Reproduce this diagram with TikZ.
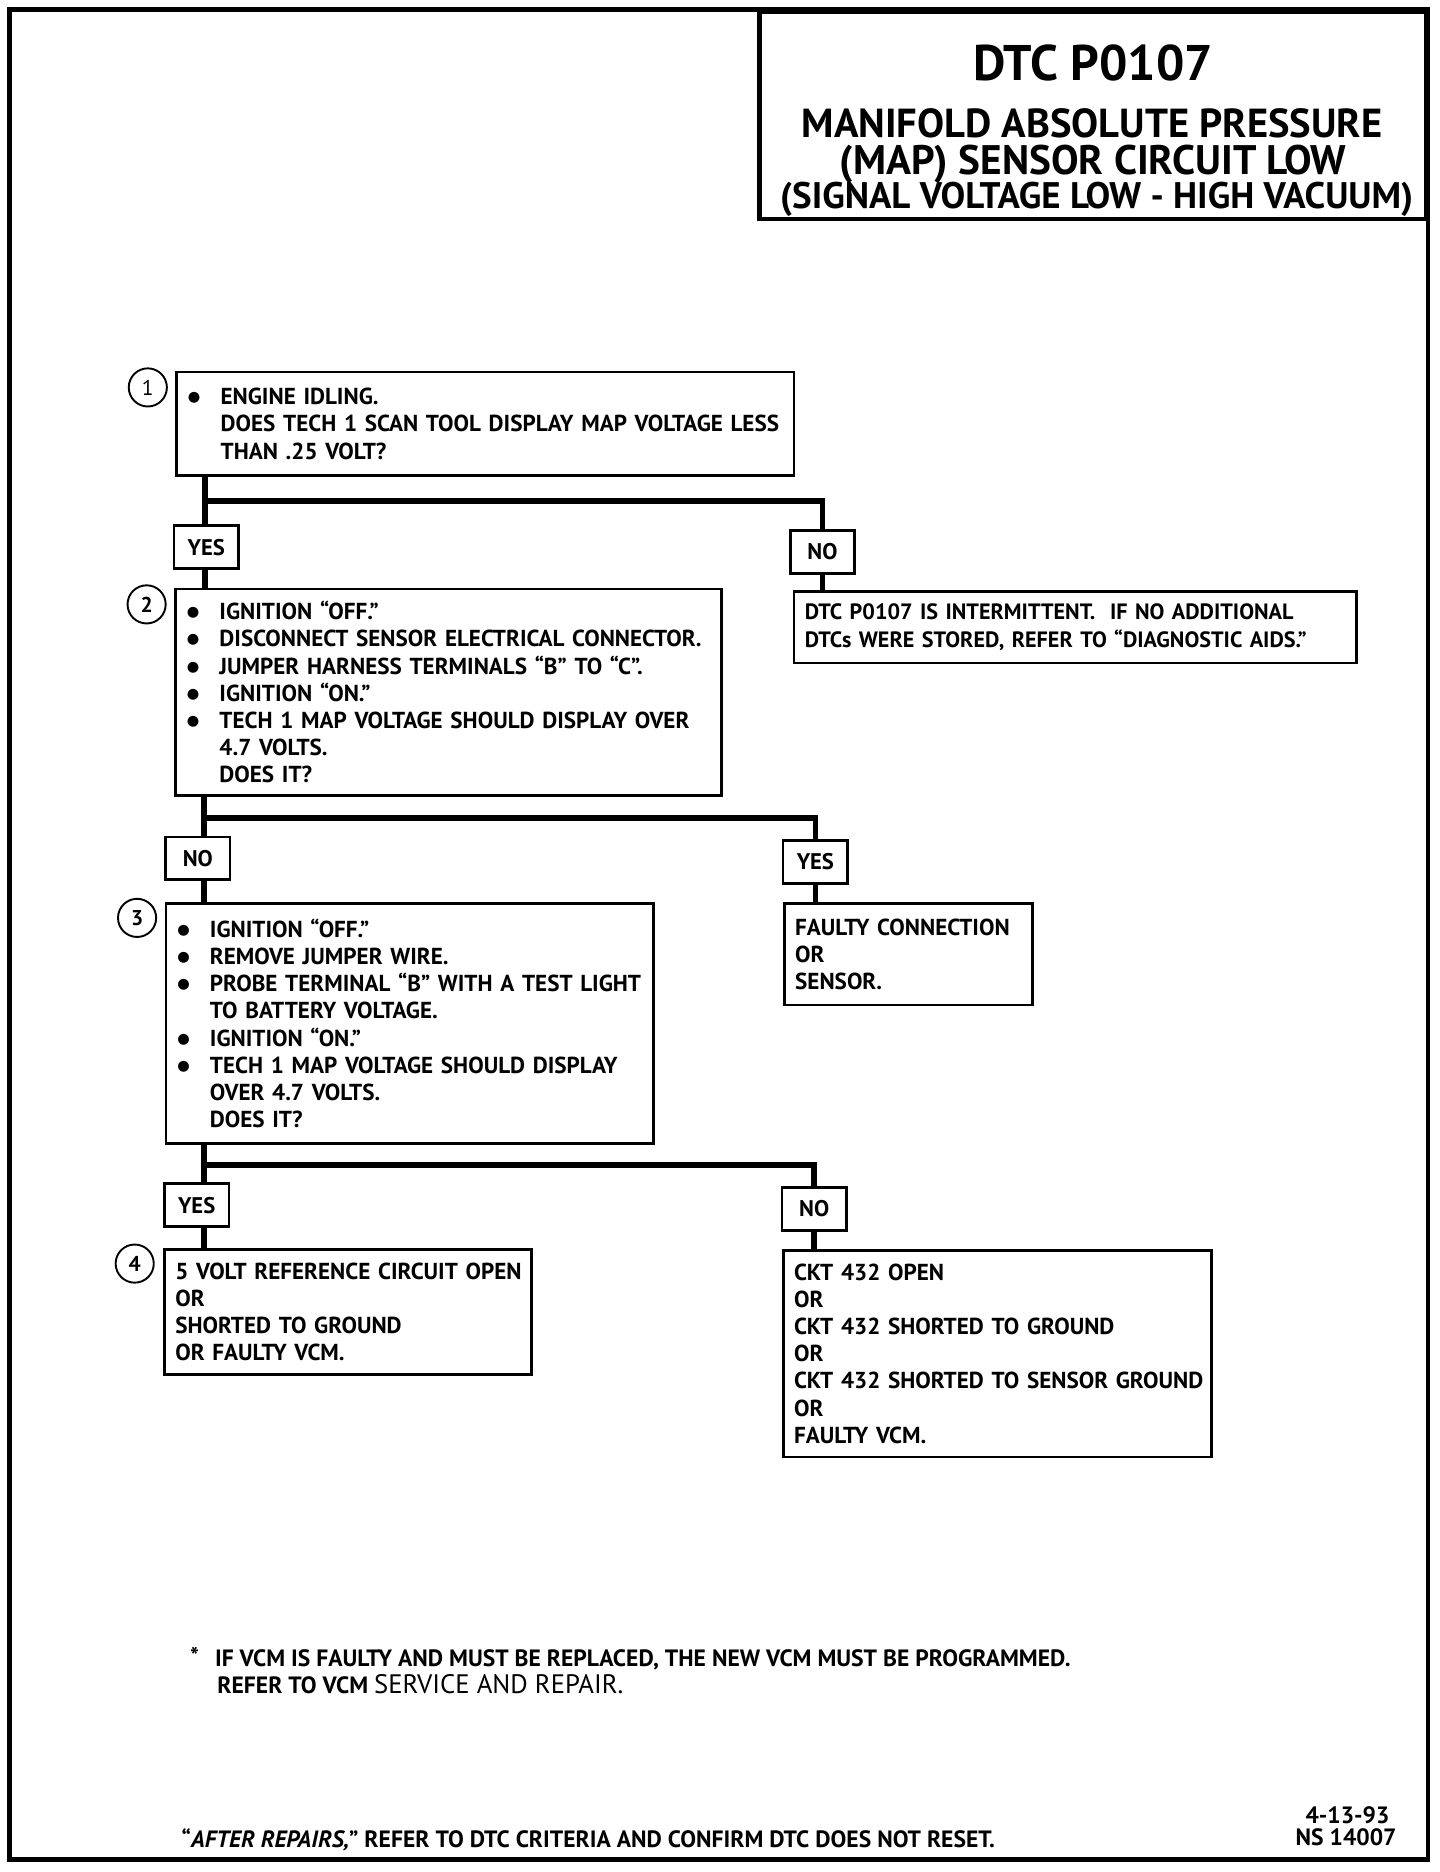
\documentclass[tikz,border=0pt]{standalone}
\usepackage{fontspec}
\setmainfont{PT Sans}
\newfontfamily\dvfont{DejaVu Sans}
\newcommand\myboxfont{\fontsize{9.7}{11.4}\selectfont\bfseries}
\newcommand\mylblfont{\fontsize{9.5}{11}\selectfont\bfseries}
\newcommand\mynumfont{\fontsize{9}{10}\selectfont\bfseries}
\newcommand\myftnfont{\fontsize{9.9}{11}\selectfont\bfseries}
\newcommand\mydot{\raisebox{1.2pt}{\dvfont\fontsize{6}{6}\selectfont ●}}
\newcommand\Bl[1]{\mbox{\makebox[11.5pt][l]{\hspace*{-2.2pt}\mydot}#1}}
\newcommand\Nl[1]{\mbox{\hspace*{11.5pt}#1}}
\newcommand\Pl[1]{\mbox{#1}}
\begin{document}
\begin{tikzpicture}[x=0.5pt,y=-0.5pt,
  box/.style={draw, line width=1.1pt, anchor=north west, align=left, inner ysep=0pt, font=\myboxfont},
  bbox/.style={box, inner xsep=7pt},
  pbox/.style={box, inner xsep=4.5pt},
  lbl/.style={draw, line width=1.1pt, minimum width=27pt, minimum height=18pt, inner sep=0pt, font=\mylblfont},
  num/.style={draw, circle, line width=0.8pt, minimum size=16pt, inner sep=0pt, font=\mynumfont},
  conn/.style={line width=2.4pt},
  txt/.style={inner sep=0pt, font=\myftnfont},
  ttl/.style={anchor=base, inner sep=0pt},
]
\useasboundingbox (0,0) rectangle (1208,1570.4);
% page frame and title box
\draw[line width=1.8pt] (8,8) rectangle (1198,1560);
\node[draw, line width=1.8pt, anchor=north east, minimum width=279.5pt, minimum height=87pt, inner sep=0pt] (title) at (1198,8) {};
\node[ttl, font=\fontsize{21}{23}\selectfont\bfseries] (t1) at (917,67.5) {DTC P0107};
\node[ttl, font=\fontsize{17}{19}\selectfont\bfseries] (t2) at (916,115) {MANIFOLD ABSOLUTE PRESSURE};
\node[ttl, font=\fontsize{17.3}{19}\selectfont\bfseries] (t3) at (917,146) {(MAP) SENSOR CIRCUIT LOW};
\node[ttl, font=\fontsize{15.5}{17}\selectfont\bfseries] (t4) at (920,175) {(SIGNAL VOLTAGE LOW - HIGH VACUUM)};

% step 1
\node[bbox, text width=245pt, minimum height=43.5pt] (b1) at (147,311)
  {\Bl{ENGINE IDLING.}\\\Nl{DOES TECH 1 SCAN TOOL DISPLAY MAP VOLTAGE LESS}\\\Nl{THAN .25 VOLT?}};
\node[num, font=\fontsize{9}{10}\selectfont] (c1) at (124,325) {1};
\node[lbl] (yes1) at (173,459) {YES};
\node[lbl] (no1) at (690,463) {NO};
\node[pbox, text width=227pt, minimum height=30pt, font=\fontsize{9.3}{11.4}\selectfont\bfseries] (nr1) at (665,495)
  {\Pl{DTC P0107 IS INTERMITTENT.\ \ IF NO ADDITIONAL}\\\Pl{DTCs WERE STORED, REFER TO “DIAGNOSTIC AIDS.”}};

% step 2
\node[bbox, text width=215pt, minimum height=86.5pt] (b2) at (146,493)
  {\Bl{IGNITION “OFF.”}\\\Bl{DISCONNECT SENSOR ELECTRICAL CONNECTOR.}\\\Bl{JUMPER HARNESS TERMINALS “B” TO “C”.}\\\Bl{IGNITION “ON.”}\\\Bl{TECH 1 MAP VOLTAGE SHOULD DISPLAY OVER}\\\Nl{4.7 VOLTS.}\\\Nl{DOES IT?}};
\node[num] (c2) at (123,507) {2};
\node[lbl] (no2) at (166,720) {NO};
\node[lbl] (yes2) at (684,723) {YES};
\node[pbox, text width=95pt, minimum height=42.5pt] (fc) at (657,757)
  {\Pl{FAULTY CONNECTION}\\\Pl{OR}\\\Pl{SENSOR.}};

% step 3
\node[bbox, text width=190.5pt, minimum height=100.5pt] (b3) at (138,757)
  {\Bl{IGNITION “OFF.”}\\\Bl{REMOVE JUMPER WIRE.}\\\Bl{PROBE TERMINAL “B”\ WITH A TEST LIGHT}\\\Nl{TO BATTERY VOLTAGE.}\\\Bl{IGNITION “ON.”}\\\Bl{TECH 1 MAP VOLTAGE SHOULD DISPLAY}\\\Nl{OVER 4.7 VOLTS.}\\\Nl{DOES IT?}};
\node[num] (c3) at (115,770) {3};
\node[lbl] (yes3) at (165,1011) {YES};
\node[lbl] (no3) at (683,1014) {NO};

% step 4 and final
\node[pbox, text width=145pt, minimum height=52.5pt] (b4) at (137,1047)
  {\Pl{5 VOLT REFERENCE CIRCUIT OPEN}\\\Pl{OR}\\\Pl{SHORTED TO GROUND}\\\Pl{OR FAULTY VCM.}};
\node[num] (c4) at (113,1060) {4};
\node[pbox, text width=170.5pt, minimum height=86.5pt] (ckt) at (656,1048)
  {\Pl{CKT 432 OPEN}\\\Pl{OR}\\\Pl{CKT 432 SHORTED TO GROUND}\\\Pl{OR}\\\Pl{CKT 432 SHORTED TO SENSOR GROUND}\\\Pl{OR}\\\Pl{FAULTY VCM.}};

% connectors
\coordinate (j1) at (172,420);
\coordinate (j2) at (171,686);
\coordinate (j3) at (171,977);
\draw[conn] (j1 |- b1.south) -- (j1) -| (no1.north);
\draw[conn] (j1) -- (j1 |- yes1.north);
\draw[conn] (j1 |- yes1.south) -- (j1 |- b2.north);
\draw[conn] (no1.south) -- (no1.south |- nr1.north);

\draw[conn] (j2 |- b2.south) -- (j2) -| (yes2.north);
\draw[conn] (j2) -- (j2 |- no2.north);
\draw[conn] (j2 |- no2.south) -- (j2 |- b3.north);
\draw[conn] (yes2.south) -- (yes2.south |- fc.north);

\draw[conn] (j3 |- b3.south) -- (j3) -| (no3.north);
\draw[conn] (j3) -- (j3 |- yes3.north);
\draw[conn] (j3 |- yes3.south) -- (j3 |- b4.north);
\draw[conn] (no3.south) -- (no3.south |- ckt.north);

% footnotes
\node[txt, anchor=base west] (star) at (159,1396) {*};
\node[txt, anchor=base west] (fn1) at (180,1398) {IF VCM IS FAULTY AND MUST BE REPLACED, THE NEW VCM MUST BE PROGRAMMED.};
\node[txt, anchor=base west] (fn2) at (182,1421) {REFER TO VCM {\mdseries\fontsize{11.2}{12}\selectfont SERVICE AND REPAIR.}};
\node[txt, anchor=base west] (after) at (152,1550) {“\textit{AFTER REPAIRS,}” REFER TO DTC CRITERIA AND CONFIRM DTC DOES NOT RESET.};
\node[txt, anchor=base east] (date) at (1166,1530) {4-13-93};
\node[txt, anchor=base east] (ns) at (1172,1548) {NS 14007};
\end{tikzpicture}
\end{document}
